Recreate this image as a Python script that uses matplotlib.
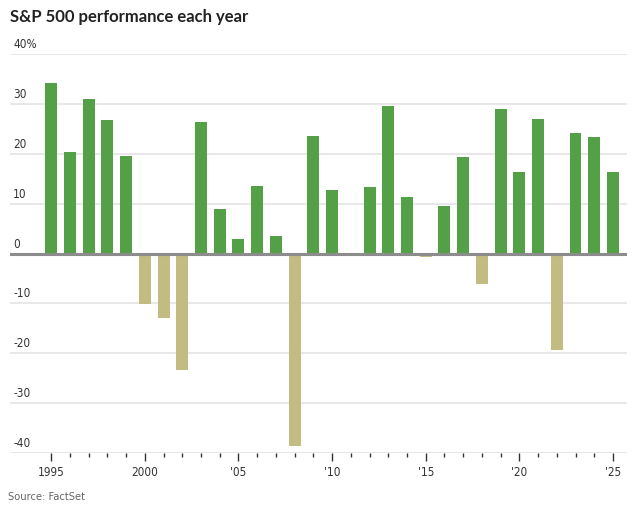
import matplotlib
matplotlib.use("Agg")
import matplotlib.pyplot as plt
import matplotlib.transforms as mtransforms

years = list(range(1995, 2026))
returns = [34.1, 20.3, 31.0, 26.7, 19.5, -10.1, -13.0, -23.4, 26.4, 9.0,
           3.0, 13.6, 3.5, -38.5, 23.5, 12.8, 0.0, 13.4, 29.6, 11.4,
           -0.7, 9.5, 19.4, -6.2, 28.9, 16.3, 26.9, -19.4, 24.2, 23.3, 16.4]
ytick_vals = [40, 30, 20, 10, 0, -10, -20, -30, -40]
ytick_labels = ["40%", "30", "20", "10", "0", "-10", "-20", "-30", "-40"]
xtick_vals = [1995, 2000, 2005, 2010, 2015, 2020, 2025]
xtick_labels = ["1995", "2000", "'05", "'10", "'15", "'20", "'25"]

GREEN = "#54a046"
TAN = "#c2bc82"
TXT = "#333333"
FONT = ["DejaVu Sans"]

W, H = 634, 512
fig = plt.figure(figsize=(W / 100, H / 100), dpi=100)
ax = fig.add_axes([10 / W, 1 - 453 / H, (627 - 10) / W, (453 - 54) / H])

colors = [GREEN if v >= 0 else TAN for v in returns]
ax.bar(years, returns, width=0.64, color=colors, zorder=3)

ax.set_xlim(1992.8, 2025.75)
ax.set_ylim(-40, 40)

for v in ytick_vals:
    if v == 0:
        ax.axhline(0, color="#8c8c8c", lw=2.2, zorder=4)
    else:
        ax.axhline(v, color="#e8e8e8", lw=1.5, zorder=1)

trans = mtransforms.blended_transform_factory(fig.transFigure, ax.transData)
for v, lab in zip(ytick_vals, ytick_labels):
    ax.text(13 / W, v + 0.6, lab, transform=trans, ha="left", va="bottom",
            fontsize=8.5, color=TXT, family=FONT, fontstretch="condensed")

for s in ax.spines.values():
    s.set_visible(False)
ax.set_yticks([])
ax.set_xticks(xtick_vals)
ax.set_xticklabels(xtick_labels, family=FONT, fontsize=8.5, color=TXT,
                   fontstretch="condensed")
ax.set_xticks(years, minor=True)
ax.tick_params(axis="x", which="major", length=6, width=1, color="#333333", pad=3)
ax.tick_params(axis="x", which="minor", length=3, width=1, color="#333333")

fig.text(10 / W, 1 - 17 / H, "S&P 500 performance each year", ha="left", va="center",
         fontsize=12, fontweight="bold", color="#222222", family=["Lato", "DejaVu Sans"])
fig.text(8 / W, 1 - 497 / H, "Source: FactSet", ha="left", va="center",
         fontsize=8, color="#666666", family=FONT, fontstretch="condensed")

fig.savefig("out.png", dpi=100)
